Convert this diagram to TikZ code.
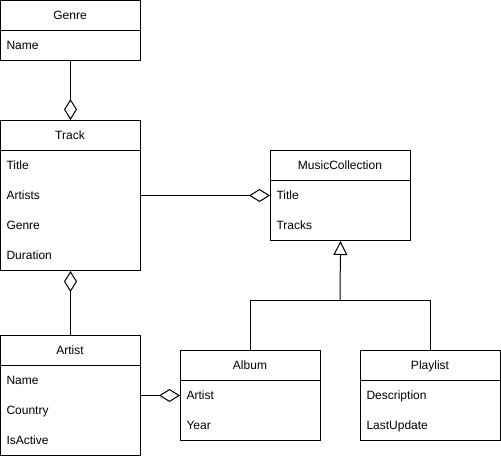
\documentclass[tikz,border=0pt]{standalone}
\usepackage{fontspec}
\setmainfont{Liberation Sans}
\usetikzlibrary{arrows.meta}
\begin{document}
\begin{tikzpicture}[x=1pt,y=-1pt,line width=1pt,
  box/.style={draw,anchor=north west,inner sep=0pt},
  hdr/.style={font=\fontsize{12}{14}\selectfont,anchor=mid,yshift=-1.5pt},
  fld/.style={font=\fontsize{12}{14}\selectfont,anchor=mid west,inner sep=0pt,yshift=-1.5pt},
  agg/.style={-{Diamond[open,length=21pt,width=13pt]}},
  gen/.style={-{Triangle[open,length=14pt,width=14pt]}}]
\useasboundingbox (0,0) rectangle (501,456);
% Genre
\node[box,minimum width=140pt,minimum height=60pt] (genre) at (0,0) {};
\draw (0,30) -- (140,30);
\node[hdr] (genreh) at (70,15) {Genre};
\node[fld] (genre1) at (6,45) {Name};
% Track
\node[box,minimum width=140pt,minimum height=150pt] (track) at (0,120) {};
\draw (0,150) -- (140,150);
\node[hdr] (trackh) at (70,135) {Track};
\node[fld] (track1) at (6,165) {Title};
\node[fld] (track2) at (6,195) {Artists};
\node[fld] (track3) at (6,225) {Genre};
\node[fld] (track4) at (6,255) {Duration};
% Artist
\node[box,minimum width=140pt,minimum height=120pt] (artist) at (0,335) {};
\draw (0,365) -- (140,365);
\node[hdr] (artisth) at (70,350) {Artist};
\node[fld] (artist1) at (6,380) {Name};
\node[fld] (artist2) at (6,410) {Country};
\node[fld] (artist3) at (6,440) {IsActive};
% MusicCollection
\node[box,minimum width=140pt,minimum height=90pt] (mc) at (270,150) {};
\draw (270,180) -- (410,180);
\node[hdr] (mch) at (340,165) {MusicCollection};
\node[fld] (mc1) at (276,195) {Title};
\node[fld] (mc2) at (276,225) {Tracks};
% Album
\node[box,minimum width=140pt,minimum height=90pt] (album) at (180,350) {};
\draw (180,380) -- (320,380);
\node[hdr] (albumh) at (250,365) {Album};
\node[fld] (album1) at (186,395) {Artist};
\node[fld] (album2) at (186,425) {Year};
% Playlist
\node[box,minimum width=140pt,minimum height=90pt] (pl) at (360,350) {};
\draw (360,380) -- (500,380);
\node[hdr] (plh) at (430,365) {Playlist};
\node[fld] (pl1) at (366,395) {Description};
\node[fld] (pl2) at (366,425) {LastUpdate};
% connectors
\draw[agg] (genre.south) -- (track.north);
\draw[agg] (artist.north) -- (track.south);
\draw[agg] (track.east) -- (mc.west);
\draw[agg] (artist.east) -- (album.west);
\coordinate (j) at (340,300);
\draw[gen] (j) -- (mc.south);
\draw (album.north) -- (album.north |- j) -- (pl.north |- j) -- (pl.north);
\end{tikzpicture}
\end{document}
